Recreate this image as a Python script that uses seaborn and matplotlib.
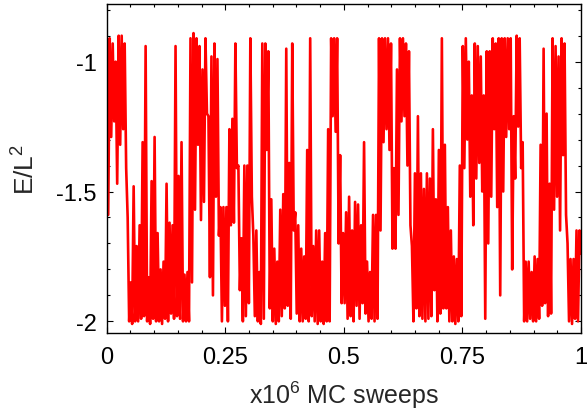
import numpy as np
import pandas as pd
import matplotlib
matplotlib.use("Agg")
import matplotlib.pyplot as plt
import seaborn as sns
from matplotlib.ticker import MultipleLocator, FixedLocator, FixedFormatter

# Upper and lower envelope of E/L^2 per short time window
e_high = [-0.92, -0.91, -0.93, -1.00, -0.90, -0.90, -0.93, -1.60, -1.85, -1.48,
          -1.71, -1.63, -1.31, -0.94, -1.83, -1.46, -1.29, -1.66, -1.80, -1.77,
          -1.47, -1.62, -1.63, -0.94, -1.44, -1.31, -1.82, -1.81, -0.91, -0.89,
          -0.91, -0.94, -1.03, -0.91, -1.21, -0.98, -0.93, -0.99, -1.56, -1.56,
          -1.56, -1.26, -1.22, -0.93, -1.40, -1.68, -1.40, -1.40, -0.91, -1.67,
          -1.65, -1.81, -0.93, -0.93, -0.96, -1.53, -1.72, -1.77, -1.57, -1.51,
          -0.95, -1.39, -0.93, -1.58, -1.63, -1.72, -1.75, -1.34, -0.91, -1.71,
          -1.65, -1.65, -1.77, -1.66, -1.26, -0.91, -0.91, -0.91, -1.36, -1.66,
          -1.58, -1.52, -1.65, -1.54, -1.55, -1.63, -1.31, -1.77, -1.81, -1.59,
          -1.59, -0.91, -0.91, -0.91, -0.91, -0.93, -1.41, -1.03, -0.91, -0.91,
          -0.93, -0.96, -1.71, -1.43, -1.21, -1.43, -1.49, -1.43, -1.45, -1.26,
          -1.53, -1.34, -0.91, -1.32, -1.56, -1.65, -1.75, -1.76, -1.40, -0.94,
          -0.91, -1.00, -1.13, -0.93, -0.94, -0.98, -1.13, -0.96, -0.96, -0.91,
          -0.93, -0.91, -0.91, -0.91, -0.91, -0.91, -1.21, -0.90, -0.91, -1.31,
          -1.77, -1.77, -1.81, -1.75, -1.76, -1.32, -0.95, -1.20, -1.47, -0.91,
          -0.94, -0.98, -0.91, -0.93, -1.70, -1.76, -1.76, -1.65, -1.65]

e_low = [-1.59, -1.29, -1.23, -1.47, -1.32, -1.26, -1.41, -2.00, -2.01, -2.00,
         -2.00, -1.99, -1.98, -2.00, -2.01, -1.99, -2.00, -2.00, -2.01, -1.99,
         -2.00, -1.97, -1.99, -1.98, -1.99, -2.00, -2.00, -2.00, -1.85, -1.57,
         -1.32, -1.61, -1.54, -1.20, -1.83, -1.90, -1.52, -1.67, -2.00, -1.94,
         -2.00, -1.63, -1.62, -1.41, -1.88, -2.00, -1.98, -1.93, -1.52, -1.98,
         -2.00, -2.01, -1.99, -1.34, -1.95, -2.00, -2.01, -2.00, -1.98, -1.95,
         -1.94, -1.99, -1.65, -1.97, -2.00, -2.00, -1.99, -2.00, -1.98, -2.00,
         -2.01, -2.00, -2.01, -2.00, -2.00, -1.21, -1.27, -1.70, -1.93, -1.93,
         -1.99, -1.98, -2.00, -1.94, -1.99, -1.93, -1.97, -2.00, -1.99, -2.00,
         -1.99, -1.65, -1.31, -1.26, -1.34, -1.72, -1.72, -1.59, -1.23, -1.21,
         -1.40, -1.63, -2.00, -1.95, -1.98, -1.99, -2.00, -1.99, -1.98, -1.88,
         -2.00, -1.97, -1.95, -1.95, -2.00, -2.00, -2.01, -2.00, -1.98, -1.41,
         -1.30, -1.52, -1.63, -1.45, -1.39, -1.50, -1.99, -1.70, -1.52, -1.26,
         -1.56, -1.90, -1.50, -1.29, -1.26, -1.80, -1.45, -1.25, -1.41, -2.00,
         -2.00, -1.99, -2.00, -2.00, -1.99, -1.94, -1.93, -1.98, -1.97, -1.57,
         -1.52, -1.65, -1.36, -1.59, -2.00, -2.01, -1.99, -2.00, -1.74]

x_ticks = [0, 0.25, 0.5, 0.75, 1]
x_tick_labels = ["0", "0.25", "0.5", "0.75", "1"]
y_ticks = [-2, -1.5, -1]
y_tick_labels = ["-2", "-1.5", "-1"]

energy = np.column_stack([e_high, e_low]).ravel()
sweeps = np.linspace(0, 1, len(energy))
df = pd.DataFrame({"sweeps": sweeps, "energy": energy})

sns.set_theme(style="ticks")
plt.rcParams["font.family"] = ["Liberation Sans", "DejaVu Sans"]
plt.rcParams["mathtext.default"] = "regular"
plt.rcParams["axes.unicode_minus"] = False

fig = plt.figure(figsize=(5.87, 4.14), dpi=100)
ax = fig.add_axes([0.1818, 0.1925, 0.808, 0.7954])

sns.lineplot(data=df, x="sweeps", y="energy", ax=ax, color="#ff0000",
             linewidth=1.9, estimator=None, sort=False)

ax.set_xlim(0, 1)
ax.set_ylim(-2.046, -0.778)
ax.xaxis.set_major_locator(FixedLocator(x_ticks))
ax.xaxis.set_major_formatter(FixedFormatter(x_tick_labels))
ax.yaxis.set_major_locator(FixedLocator(y_ticks))
ax.yaxis.set_major_formatter(FixedFormatter(y_tick_labels))
ax.xaxis.set_minor_locator(MultipleLocator(0.05))
ax.yaxis.set_minor_locator(MultipleLocator(0.1))

ax.tick_params(which="both", direction="in", top=True, right=True,
               colors="black", width=0.8, labelsize=17)
ax.tick_params(which="major", length=4.5)
ax.tick_params(which="minor", length=2.5)
ax.tick_params(axis="x", which="major", pad=9)
ax.tick_params(axis="y", which="major", pad=7)

for s in ax.spines.values():
    s.set_visible(True)
    s.set_color("black")
    s.set_linewidth(1.0)

ax.set_xlabel(r"x10$^6$ MC sweeps", fontsize=18, labelpad=8)
ax.set_ylabel(r"E/L$^2$", fontsize=19, labelpad=12)

fig.savefig("out.png", dpi=100)
